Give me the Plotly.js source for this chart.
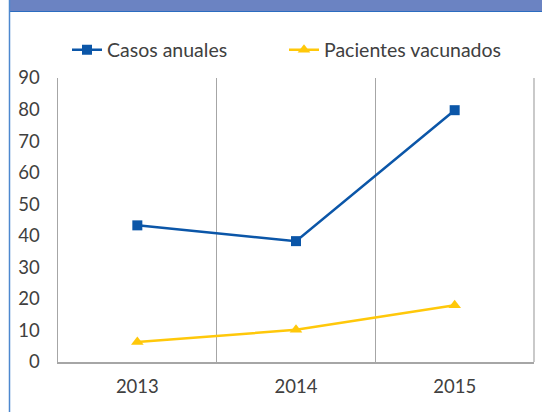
<!DOCTYPE html>
<html>
<head>
<meta charset="utf-8">
<script src="https://cdn.plot.ly/plotly-3.0.1.min.js"></script>
<style>html,body{margin:0;padding:0;background:#fff;}#chart{width:542px;height:412px;}</style>
</head>
<body>
<div id="chart"></div>
<script>
var years = ['2013', '2014', '2015'];
var casosAnuales = [43.3, 38.3, 79.8];
var pacientesVacunados = [6.3, 10.2, 18.0];
var yTicks = [0, 10, 20, 30, 40, 50, 60, 70, 80, 90];

var W = 542, H = 412;
var mL = 58, mR = 8, mT = 78, mB = 50;
var pw = W - mL - mR, ph = H - mT - mB;
function px2x(p) { return (p - mL) / pw; }
function py2y(p) { return (H - mB - p) / ph; }

var traces = [
  {
    x: years, y: casosAnuales, name: 'Casos anuales', type: 'scatter', mode: 'lines+markers',
    line: {color: '#0b56a8', width: 2.5},
    marker: {symbol: 'square', size: 10, color: '#0b56a8'}
  },
  {
    x: years, y: pacientesVacunados, name: 'Pacientes vacunados', type: 'scatter', mode: 'lines+markers',
    line: {color: '#ffc80a', width: 2.5},
    marker: {symbol: 'triangle-up', size: 11, color: '#ffc80a'}
  }
];

var layout = {
  width: W, height: H,
  margin: {l: mL, r: mR, t: mT, b: mB, pad: 0},
  paper_bgcolor: '#ffffff', plot_bgcolor: '#ffffff',
  font: {family: 'Lato, sans-serif', size: 18.5, color: '#404040'},
  showlegend: true,
  legend: {
    orientation: 'h', x: px2x(67), xanchor: 'left', y: py2y(50), yanchor: 'middle',
    font: {family: 'Lato, sans-serif', size: 19.5, color: '#404040'},
    bgcolor: 'rgba(0,0,0,0)', entrywidth: 172, tracegroupgap: 0
  },
  xaxis: {
    type: 'category', range: [-0.5, 2.5], fixedrange: true,
    tickson: 'boundaries', showgrid: true, gridcolor: '#a6a6a6', gridwidth: 1.2,
    showline: true, linecolor: '#a6a6a6', linewidth: 1.5,
    ticks: '', ticklabelstandoff: 7, zeroline: false
  },
  yaxis: {
    range: [0, 90], tickvals: yTicks, ticktext: yTicks.map(String),
    showgrid: false, zeroline: false,
    showline: true, linecolor: '#a6a6a6', linewidth: 1.5,
    ticks: '', ticklabelstandoff: 13
  },
  shapes: [
    {type: 'line', xref: 'paper', yref: 'paper', x0: 1, x1: 1, y0: 0, y1: 1,
     line: {color: '#a6a6a6', width: 1.2}},
    {type: 'rect', xref: 'paper', yref: 'paper', x0: px2x(9), x1: px2x(560), y0: py2y(11), y1: py2y(-5),
     fillcolor: '#6b83c2', line: {width: 0}, layer: 'above'},
    {type: 'line', xref: 'paper', yref: 'paper', x0: px2x(9), x1: px2x(560), y0: py2y(11.5), y1: py2y(11.5),
     line: {color: '#2b6cc0', width: 1}},
    {type: 'line', xref: 'paper', yref: 'paper', x0: px2x(9.5), x1: px2x(9.5), y0: py2y(420), y1: py2y(0),
     line: {color: '#4d88cf', width: 1.5}}
  ]
};

Plotly.newPlot('chart', traces, layout, {displayModeBar: false, staticPlot: true});
</script>
</body>
</html>
